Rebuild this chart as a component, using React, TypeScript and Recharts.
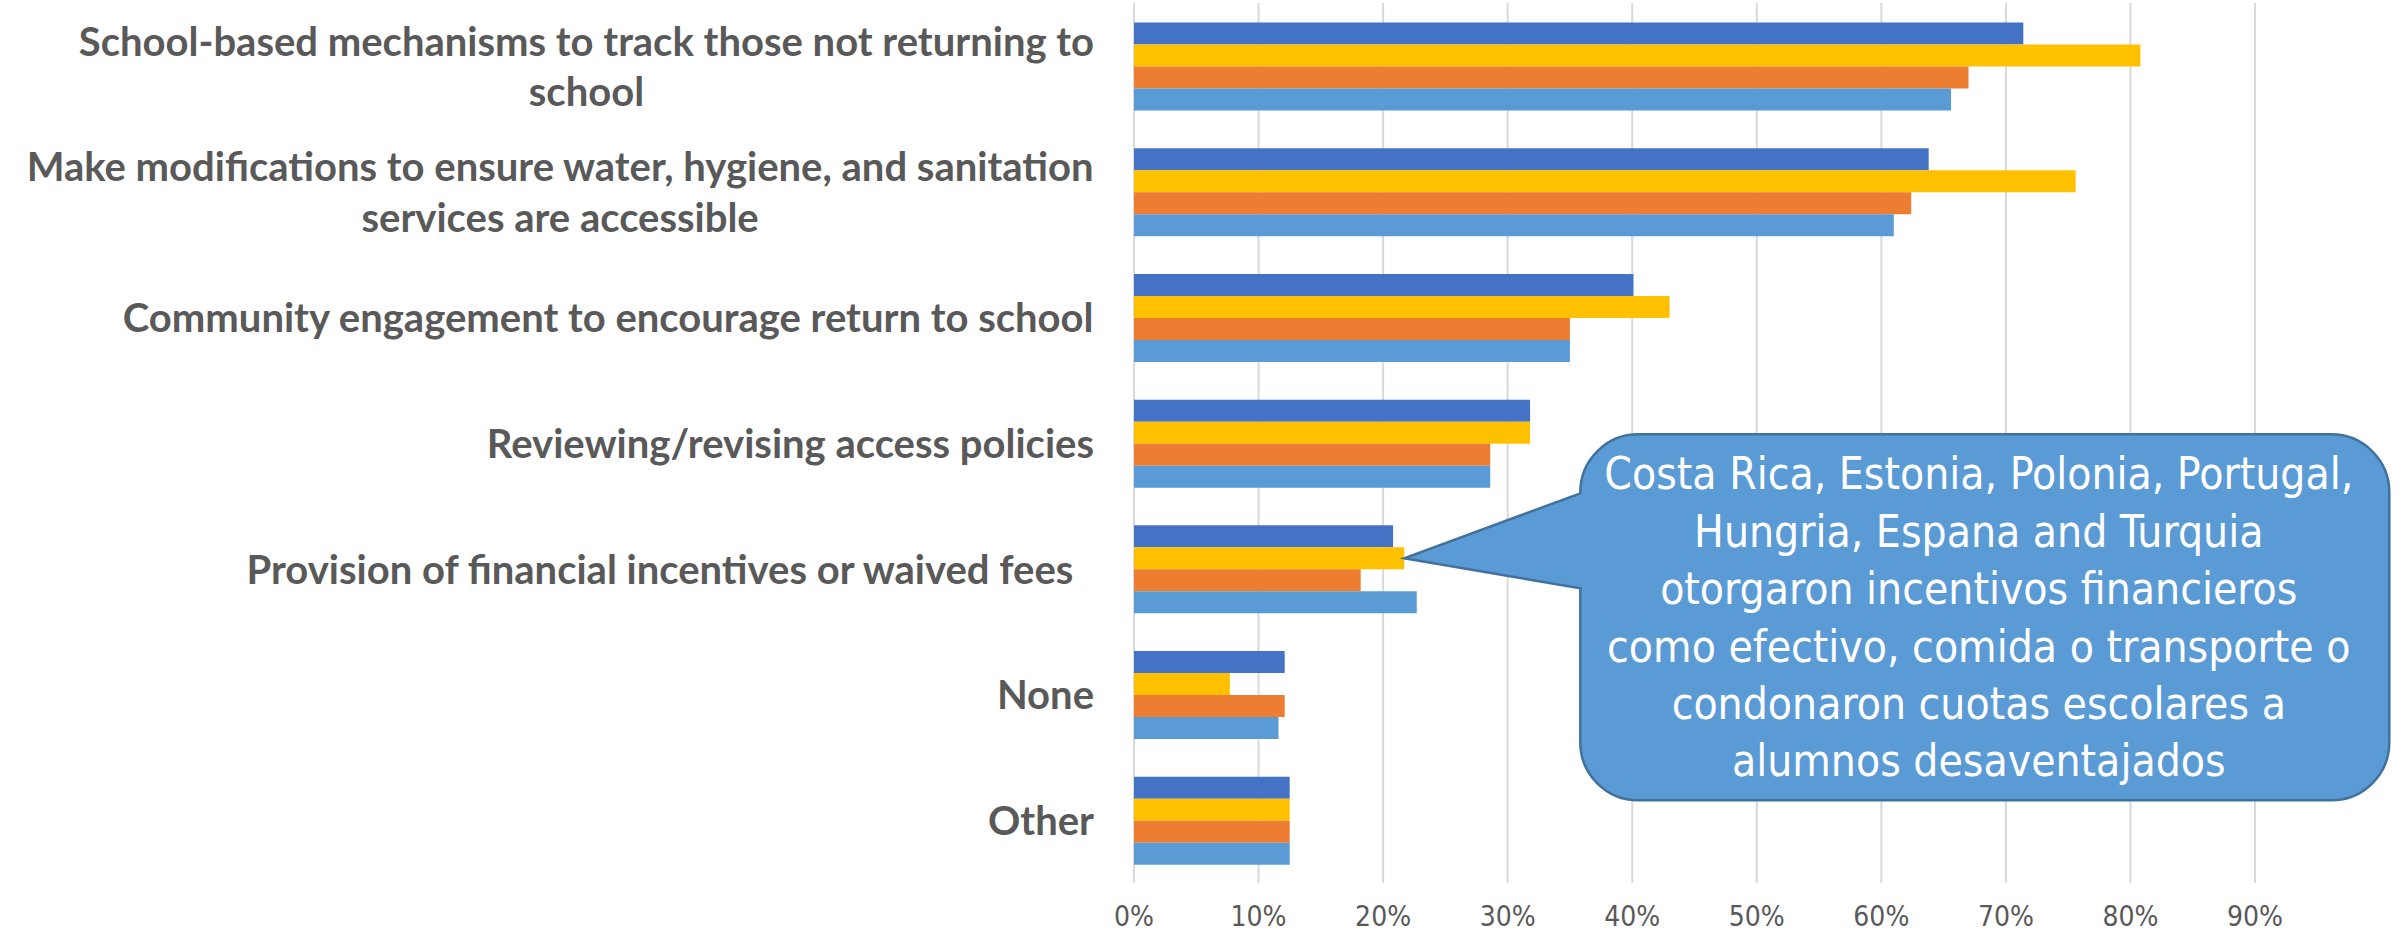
import React from 'react';
import { BarChart, Bar, XAxis, YAxis, CartesianGrid, LabelList } from 'recharts';

const categories = [
  'School-based mechanisms to track those not returning to school',
  'Make modifications to ensure water, hygiene, and sanitation services are accessible',
  'Community engagement to encourage return to school',
  'Reviewing/revising access policies',
  'Provision of financial incentives or waived fees ',
  'None',
  'Other',
];

const seriesNames = ['Series 1', 'Series 2', 'Series 3', 'Series 4'];
const seriesColors = ['#4472C4', '#FFC000', '#ED7D31', '#5B9BD5'];

const series1 = [0.714, 0.638, 0.401, 0.318, 0.208, 0.121, 0.125];
const series2 = [0.808, 0.756, 0.43, 0.318, 0.217, 0.077, 0.125];
const series3 = [0.67, 0.624, 0.35, 0.286, 0.182, 0.121, 0.125];
const series4 = [0.656, 0.61, 0.35, 0.286, 0.227, 0.116, 0.125];

const xTicks = [0, 0.1, 0.2, 0.3, 0.4, 0.5, 0.6, 0.7, 0.8, 0.9];

const calloutCategory = 'Provision of financial incentives or waived fees ';
const calloutLines = [
  'Costa Rica, Estonia, Polonia, Portugal,',
  'Hungria, Espana and Turquia',
  'otorgaron incentivos financieros',
  'como efectivo, comida o transporte o',
  'condonaron cuotas escolares a',
  'alumnos desaventajados',
];

const data = categories.map((name, i) => ({
  name,
  s1: series1[i],
  s2: series2[i],
  s3: series3[i],
  s4: series4[i],
}));

const FONT = '"DejaVu Sans Condensed", "DejaVu Sans", sans-serif';
const LABEL_FONT = 'Lato, "Noto Sans", sans-serif';
const LABEL_SIZE = 40;

let ctx: CanvasRenderingContext2D | null = null;
const measure = (text: string) => {
  if (!ctx) ctx = document.createElement('canvas').getContext('2d');
  if (!ctx) return text.length * LABEL_SIZE * 0.45;
  ctx.font = `bold ${LABEL_SIZE}px ${LABEL_FONT}`;
  return ctx.measureText(text).width;
};

// greedy wrap by characters, like excel does for long category names
const wrap = (text: string, maxChars: number) => {
  const words = text.split(' ');
  const lines: string[] = [];
  let cur = '';
  words.forEach((w, i) => {
    const next = cur ? cur + ' ' + w : w;
    if (next.length > maxChars && cur) {
      lines.push(cur);
      cur = w;
    } else {
      cur = next;
    }
    if (i === words.length - 1) lines.push(cur + (w === '' ? ' ' : ''));
  });
  return lines;
};

const CategoryTick = (props: any) => {
  const { x, y, payload } = props;
  const lines = wrap(payload.value, 60);
  const right = x - 40;
  const maxW = Math.max(...lines.map(measure));
  const cx = right - maxW / 2;
  const lh = 50.7;
  const y0 = y - ((lines.length - 1) * lh) / 2;
  return (
    <g>
      {lines.map((l, i) => (
        <text
          key={i}
          x={cx}
          y={y0 + i * lh}
          textAnchor="middle"
          dominantBaseline="central"
          style={{ whiteSpace: 'pre' }}
          fill="#595959"
          fontSize={LABEL_SIZE}
          fontWeight="bold"
          fontFamily={LABEL_FONT}
        >
          {l}
        </text>
      ))}
    </g>
  );
};

const Callout = (props: any) => {
  const { index } = props;
  if (categories[index] !== calloutCategory) return null;
  const vb = props.viewBox || props;
  const tx = Number(vb.x) + Number(vb.width);
  const ty = Number(vb.y) + Number(vb.height) / 2;
  const L = tx + 176;
  const R = tx + 985;
  const T = ty - 124;
  const B = ty + 242;
  const r = 58;
  const p1 = ty - 65;
  const p2 = ty + 30;
  const d = [
    `M ${L + r} ${T}`,
    `H ${R - r}`,
    `A ${r} ${r} 0 0 1 ${R} ${T + r}`,
    `V ${B - r}`,
    `A ${r} ${r} 0 0 1 ${R - r} ${B}`,
    `H ${L + r}`,
    `A ${r} ${r} 0 0 1 ${L} ${B - r}`,
    `V ${p2}`,
    `L ${tx} ${ty}`,
    `L ${L} ${p1}`,
    `V ${T + r}`,
    `A ${r} ${r} 0 0 1 ${L + r} ${T}`,
    'Z',
  ].join(' ');
  const lh = 57.4;
  const midY = (T + B) / 2;
  const y0 = midY - ((calloutLines.length - 1) * lh) / 2;
  const cx = (L + R) / 2 - 6;
  return (
    <g>
      <path d={d} fill="#5B9BD5" stroke="#41719C" strokeWidth={2.5} />
      {calloutLines.map((l, i) => (
        <text
          key={i}
          x={cx}
          y={y0 + i * lh}
          textAnchor="middle"
          dominantBaseline="central"
          fill="#FFFFFF"
          fontSize={44}
          fontFamily={FONT}
        >
          {l}
        </text>
      ))}
    </g>
  );
};

export default function App() {
  return (
    <div style={{ width: 2407, height: 937, background: '#fff' }}>
      <style>{`body{margin:0}`}</style>
      <BarChart
        width={2407}
        height={937}
        data={data}
        layout="vertical"
        margin={{ top: 3, right: 152, left: 0, bottom: 0 }}
        barGap={0}
        barCategoryGap="15.5%"
      >
        <CartesianGrid horizontal={false} stroke="#D9D9D9" strokeWidth={2} />
        <XAxis
          type="number"
          domain={[0, 0.9]}
          ticks={xTicks}
          interval={0}
          axisLine={false}
          tickLine={false}
          tickSize={0}
          tickMargin={23}
          height={54}
          tickFormatter={(v: number) => `${Math.round(v * 100)}%`}
          tick={{ fill: '#595959', fontSize: 28, fontFamily: FONT }}
        />
        <YAxis
          type="category"
          dataKey="name"
          width={1134}
          axisLine={false}
          tickLine={false}
          tickSize={0}
          tickMargin={0}
          interval={0}
          tick={<CategoryTick />}
        />
        <Bar dataKey="s1" name={seriesNames[0]} fill={seriesColors[0]} isAnimationActive={false} />
        <Bar dataKey="s2" name={seriesNames[1]} fill={seriesColors[1]} isAnimationActive={false}>
          <LabelList dataKey="s2" content={<Callout />} />
        </Bar>
        <Bar dataKey="s3" name={seriesNames[2]} fill={seriesColors[2]} isAnimationActive={false} />
        <Bar dataKey="s4" name={seriesNames[3]} fill={seriesColors[3]} isAnimationActive={false} />
      </BarChart>
    </div>
  );
}
